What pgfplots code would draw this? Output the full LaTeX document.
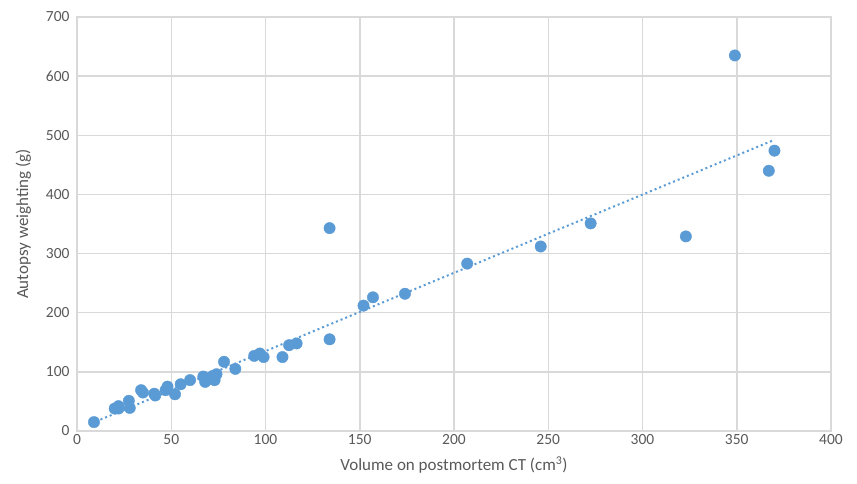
\documentclass[border=0pt]{standalone}
\usepackage{fontspec}
\setmainfont{Carlito}
\usepackage{pgfplots}
\pgfplotsset{compat=1.18}
\definecolor{dotblue}{HTML}{5B9BD5}
\definecolor{gridgray}{HTML}{D9D9D9}
\definecolor{txtgray}{HTML}{595959}
\begin{document}
\begin{tikzpicture}
\begin{axis}[
  scale only axis,
  width=754pt, height=414pt,
  xmin=0, xmax=400, ymin=0, ymax=700,
  xtick distance=50, ytick distance=100,
  grid=major,
  major grid style={gridgray, line width=1.5pt},
  axis line style={gridgray, line width=1.5pt},
  tick style={draw=none},
  ticklabel style={font=\fontsize{15.5}{18}\selectfont, text=txtgray},
  yticklabel style={xshift=-4pt},
  /pgf/number format/assume math mode=true,
  xlabel={Volume on postmortem CT (cm\textsuperscript{3})},
  ylabel={Autopsy weighting (g)},
  label style={font=\fontsize{17}{20}\selectfont, text=txtgray},
  xlabel style={yshift=-5pt},
  ylabel style={yshift=8pt},
  clip=false,
]
\addplot[dotblue, line width=2pt, dash pattern=on 2pt off 3pt] coordinates {(10,16) (369,491)};
\addplot[only marks, mark=*, mark size=5.7pt, mark options={draw=dotblue, fill=dotblue}] coordinates {
(9,15) (20,38) (22,42) (22,38) (28,39) (27.5,51) (34,69) (35,65)
(41.5,60) (41,63) (48,75) (47,69) (52,62) (55,79) (60,86)
(67,92) (68,83) (70,88) (72,93) (73,86) (74,96) (78,117) (84,105)
(94,127) (97,131) (99,125) (109,125) (112.5,145) (116.5,148)
(134,155) (134,343) (152,212) (157,226) (174,232) (207,283)
(246,312) (272.5,351) (323,329) (349,635) (367,440) (370,474)
};
\end{axis}
\path (current axis.south west) ++(-77pt,-53pt) (current axis.north east) ++(26pt,17pt);
\end{tikzpicture}
\end{document}
